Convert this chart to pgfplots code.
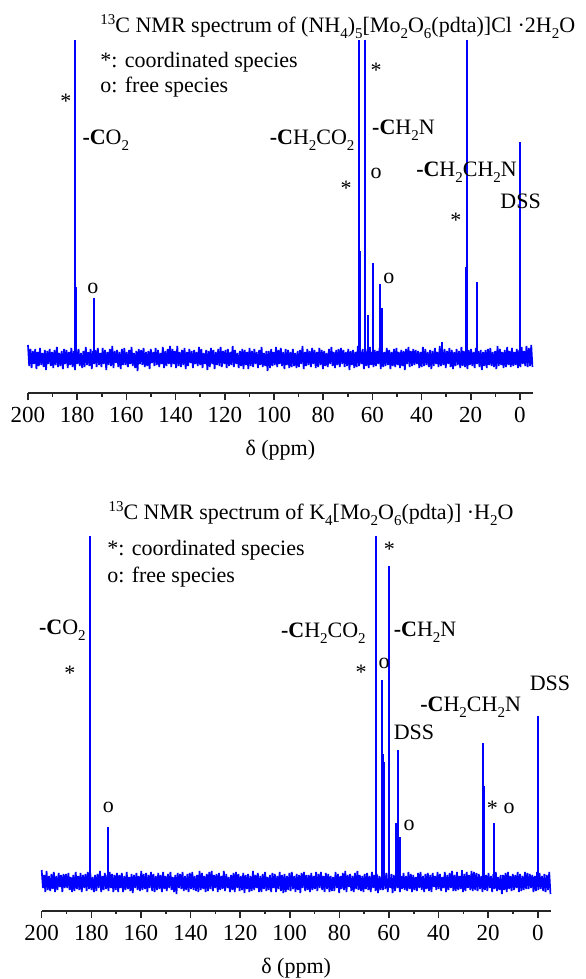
\documentclass[border=0pt]{standalone}
\usepackage{fontspec}
\setmainfont{Liberation Serif}
\usepackage{pgfplots}
\usepackage{pgfplotstable}
\pgfplotsset{compat=1.18}

% baseline noise, one value per step of 0.4895 ppm from 200 ppm down
\pgfplotstableread[row sep=\\]{y\\
13\\-8\\9\\-10\\7\\-6\\9\\-11\\6\\-8\\10\\-7\\5\\-9\\8\\-12\\7\\-6\\9\\-8\\
6\\-10\\8\\-7\\11\\-9\\5\\-8\\7\\-11\\9\\-6\\8\\-10\\6\\-7\\10\\-9\\7\\-12\\
8\\-6\\9\\-8\\5\\-10\\7\\-9\\11\\-7\\6\\-8\\9\\-11\\7\\-6\\8\\-9\\10\\-7\\
5\\-9\\10\\-6\\8\\-12\\6\\-7\\9\\-8\\12\\-10\\7\\-5\\8\\-9\\6\\-11\\9\\-7\\
10\\-7\\6\\-9\\8\\-6\\11\\-8\\5\\-10\\7\\-13\\9\\-6\\8\\-7\\10\\-9\\6\\-8\\
7\\-11\\9\\-5\\6\\-8\\10\\-7\\8\\-9\\5\\-6\\11\\-10\\7\\-8\\9\\-6\\12\\-9\\
9\\-6\\7\\-10\\12\\-8\\6\\-9\\8\\-7\\10\\-11\\6\\-8\\9\\-5\\7\\-10\\8\\-6\\
6\\-8\\11\\-7\\9\\-10\\5\\-6\\8\\-12\\7\\-9\\10\\-6\\8\\-11\\6\\-7\\9\\-8\\
11\\-9\\7\\-6\\8\\-10\\9\\-8\\6\\-7\\12\\-9\\8\\-6\\5\\-10\\7\\-8\\9\\-11\\
8\\-7\\6\\-11\\10\\-8\\7\\-9\\9\\-6\\6\\-10\\8\\-7\\11\\-9\\5\\-8\\7\\-13\\
7\\-10\\9\\-8\\6\\-7\\11\\-9\\8\\-6\\10\\-8\\6\\-11\\9\\-7\\8\\-10\\6\\-9\\
9\\-8\\5\\-10\\7\\-9\\8\\-6\\12\\-11\\6\\-8\\9\\-7\\7\\-9\\10\\-6\\8\\-10\\
6\\-9\\10\\-7\\8\\-11\\7\\-8\\5\\-9\\9\\-6\\11\\-8\\6\\-10\\8\\-7\\9\\-9\\
10\\-6\\8\\-9\\6\\-8\\9\\-12\\7\\-7\\8\\-10\\6\\-9\\12\\-8\\7\\-6\\9\\-11\\
7\\-8\\9\\-10\\11\\-7\\6\\-9\\8\\-8\\7\\-6\\10\\-11\\8\\-9\\6\\-8\\10\\-7\\
8\\-11\\6\\-8\\9\\-9\\10\\-7\\6\\-10\\8\\-8\\7\\-12\\9\\-6\\11\\-9\\7\\-8\\
9\\-7\\8\\-6\\7\\-10\\6\\-9\\11\\-8\\9\\-7\\6\\-9\\8\\-11\\7\\-8\\10\\-6\\
6\\-9\\12\\-8\\8\\-7\\9\\-10\\7\\-6\\10\\-9\\8\\-11\\6\\-8\\9\\-7\\7\\-10\\
11\\-8\\7\\-9\\6\\-11\\8\\-7\\9\\-8\\6\\-10\\10\\-6\\7\\-9\\8\\-12\\6\\-8\\
8\\-10\\9\\-7\\10\\-8\\6\\-9\\7\\-11\\12\\-8\\9\\-7\\6\\-10\\8\\-9\\11\\-7\\
7\\-9\\10\\-8\\6\\-7\\9\\-10\\8\\-9\\11\\-6\\7\\-8\\12\\-9\\10\\-8\\13\\-9\\
}\noisetop

\pgfplotstableread[row sep=\\]{y\\
12\\-6\\7\\-10\\11\\-8\\6\\-9\\8\\-7\\10\\-10\\6\\-8\\9\\-5\\7\\-10\\8\\-6\\
8\\-6\\9\\-8\\5\\-10\\7\\-9\\10\\-7\\6\\-8\\9\\-10\\7\\-6\\8\\-9\\10\\-7\\
9\\-8\\5\\-10\\7\\-9\\8\\-6\\11\\-10\\6\\-8\\9\\-7\\7\\-9\\10\\-6\\8\\-10\\
7\\-8\\9\\-10\\7\\-6\\9\\-10\\6\\-8\\10\\-7\\5\\-9\\8\\-11\\7\\-6\\9\\-8\\
6\\-9\\11\\-8\\8\\-7\\9\\-10\\7\\-6\\10\\-9\\8\\-10\\6\\-8\\9\\-7\\7\\-10\\
10\\-7\\6\\-9\\8\\-6\\10\\-8\\5\\-10\\7\\-12\\9\\-6\\8\\-7\\10\\-9\\6\\-8\\
8\\-10\\9\\-7\\10\\-8\\6\\-9\\7\\-10\\11\\-8\\9\\-7\\6\\-10\\8\\-9\\10\\-7\\
11\\-9\\7\\-6\\8\\-10\\9\\-8\\6\\-7\\11\\-9\\8\\-6\\5\\-10\\7\\-8\\9\\-10\\
10\\-6\\8\\-9\\6\\-8\\9\\-11\\7\\-7\\8\\-10\\6\\-9\\11\\-8\\7\\-6\\9\\-10\\
6\\-10\\8\\-7\\10\\-9\\5\\-8\\7\\-10\\9\\-6\\8\\-10\\6\\-7\\10\\-9\\7\\-11\\
8\\-10\\6\\-8\\9\\-9\\10\\-7\\6\\-10\\8\\-8\\7\\-11\\9\\-6\\10\\-9\\7\\-8\\
7\\-10\\9\\-8\\6\\-7\\10\\-9\\8\\-6\\10\\-8\\6\\-10\\9\\-7\\8\\-10\\6\\-9\\
5\\-9\\10\\-6\\8\\-11\\6\\-7\\9\\-8\\11\\-10\\7\\-5\\8\\-9\\6\\-10\\9\\-7\\
11\\-8\\7\\-9\\6\\-10\\8\\-7\\9\\-8\\6\\-10\\10\\-6\\7\\-9\\8\\-11\\6\\-8\\
6\\-8\\10\\-7\\9\\-10\\5\\-6\\8\\-11\\7\\-9\\10\\-6\\8\\-10\\6\\-7\\9\\-8\\
6\\-9\\10\\-7\\8\\-10\\7\\-8\\5\\-9\\9\\-6\\10\\-8\\6\\-10\\8\\-7\\9\\-9\\
7\\-10\\9\\-5\\6\\-8\\10\\-7\\8\\-9\\5\\-6\\10\\-10\\7\\-8\\9\\-6\\11\\-9\\
7\\-9\\10\\-8\\6\\-7\\9\\-10\\8\\-9\\10\\-6\\7\\-8\\11\\-9\\10\\-8\\9\\-9\\
8\\-7\\6\\-10\\10\\-8\\7\\-9\\9\\-6\\6\\-10\\8\\-7\\10\\-9\\5\\-8\\7\\-12\\
7\\-8\\9\\-10\\10\\-7\\6\\-9\\8\\-8\\7\\-6\\10\\-10\\8\\-9\\6\\-8\\10\\-7\\
9\\-7\\8\\-6\\7\\-10\\6\\-9\\10\\-8\\9\\-7\\6\\-9\\8\\-10\\7\\-8\\10\\-12\\
}\noisebot

\pgfplotsset{nmr/.style={
  scale only axis, x dir=reverse, xmin=-5.2, xmax=200,
  axis x line*=bottom, axis y line=none, clip=false,
  xtick={0,20,...,200}, minor xtick={10,30,...,190},
  tick align=outside, major tick length=3.5pt, minor tick length=1.75pt,
  axis line style={line width=0.9pt, black!85},
  tick style={line width=0.8pt, black!85},
  /pgf/number format/assume math mode=true,
  tick label style={font=\fontsize{11.5}{13}\selectfont},
  xlabel={δ (ppm)},
  xlabel style={font=\fontsize{11}{13}\selectfont, at={(axis description cs:0.5,0)}, anchor=center, yshift=-28.5pt},
}}
\tikzset{lbl/.style={inner sep=0pt, font=\fontsize{11}{13}\selectfont}}
% Origin-style low subscripts and high superscripts
\newcommand{\sub}[1]{\raisebox{-0.55ex}{\fontsize{7.5}{8}\selectfont #1}}
\newcommand{\sups}[1]{\raisebox{0.85ex}{\fontsize{7.5}{8}\selectfont #1}}

\begin{document}
\begin{tikzpicture}
\useasboundingbox (0,0) rectangle (292.5pt,489.5pt);

% upper spectrum: (NH4)5[Mo2O6(pdta)]Cl.2H2O
\begin{axis}[nmr, at={(14pt,292.85pt)}, anchor=south west,
  width=252.35pt, height=176.65pt, ymin=-35.3, ymax=318]
\addplot[blue, line width=0.85pt] table[x expr={200-0.4895*\coordindex}, y index=0] {\noisetop};
\addplot[blue, ycomb, line width=1pt] coordinates {
  (181.0,318) (180.4,71) (173.2,60) (65.45,318) (65.0,107) (63.1,318)
  (61.9,43) (59.9,95) (56.9,74) (56.2,50) (31.6,16) (22.1,91) (21.7,318)
  (17.6,76) (0.0,216)};
\node[lbl, anchor=base west] at (170.7,325) {\sups{13}C NMR spectrum of (NH\sub{4})\sub{5}[Mo\sub{2}O\sub{6}(pdta)]Cl ·2H\sub{2}O};
\node[lbl, anchor=base west] at (170.7,290) {*: coordinated species};
\node[lbl, anchor=base west] at (170.7,265) {o: free species};
\node[lbl] at (184.6,257) {*};
\node[lbl, anchor=west] at (178.0,218) {\textbf{-C}O\sub{2}};
\node[lbl] at (173.6,70) {o};
\node[lbl, anchor=east] at (67.1,218) {\textbf{-C}H\sub{2}CO\sub{2}};
\node[lbl] at (70.7,170) {*};
\node[lbl] at (58.5,288) {*};
\node[lbl, anchor=west] at (60.2,228) {\textbf{-C}H\sub{2}N};
\node[lbl] at (58.5,185) {o};
\node[lbl] at (53.3,80) {o};
\node[lbl, anchor=west] at (42.3,186) {\textbf{-C}H\sub{2}CH\sub{2}N};
\node[lbl, anchor=west] at (8.1,157) {DSS};
\node[lbl] at (26.0,138) {*};
\end{axis}

% lower spectrum: K4[Mo2O6(pdta)].H2O
\begin{axis}[nmr, at={(20.85pt,34.15pt)}, anchor=south west,
  width=254.5pt, height=187.35pt, ymin=-28.7, ymax=346]
\addplot[blue, line width=0.85pt] table[x expr={200-0.4895*\coordindex}, y index=0] {\noisebot};
\addplot[blue, ycomb, line width=1pt] coordinates {
  (180.6,346) (173.3,55) (65.3,346) (65.15,320) (62.9,202) (62.4,128)
  (62.2,120) (60.0,316) (57.0,59) (56.3,132) (55.5,45) (30.7,12)
  (22.2,139) (21.6,96) (17.6,59) (0.0,166)};
\node[lbl, anchor=base west] at (173.2,362) {\sups{13}C NMR spectrum of K\sub{4}[Mo\sub{2}O\sub{6}(pdta)] ·H\sub{2}O};
\node[lbl, anchor=base west] at (173.7,326) {*: coordinated species};
\node[lbl, anchor=base west] at (173.7,299) {o: free species};
\node[lbl, anchor=east] at (182.1,252) {\textbf{-C}O\sub{2}};
\node[lbl] at (188.6,209) {*};
\node[lbl] at (173.1,75) {o};
\node[lbl, anchor=east] at (69.2,249) {\textbf{-C}H\sub{2}CO\sub{2}};
\node[lbl] at (71.2,210) {*};
\node[lbl] at (62.0,219) {o};
\node[lbl] at (59.8,333) {*};
\node[lbl, anchor=west] at (58.2,250) {\textbf{-C}H\sub{2}N};
\node[lbl, anchor=west] at (58.2,150) {DSS};
\node[lbl] at (51.9,57) {o};
\node[lbl, anchor=west] at (47.5,175) {\textbf{-C}H\sub{2}CH\sub{2}N};
\node[lbl, anchor=west] at (3.4,199) {DSS};
\node[lbl] at (18.3,74) {*};
\node[lbl] at (11.6,74) {o};
\end{axis}
\end{tikzpicture}
\end{document}
